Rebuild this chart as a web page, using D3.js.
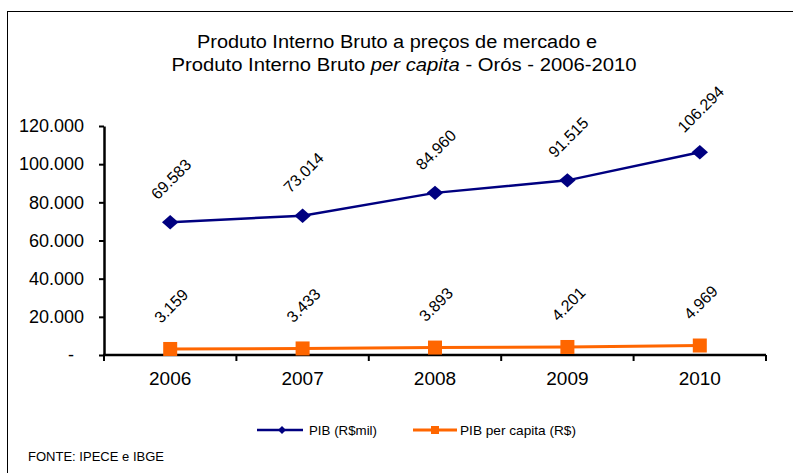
<!DOCTYPE html>
<html>
<head>
<meta charset="utf-8">
<script src="https://cdn.jsdelivr.net/npm/d3@7"></script>
<style>
  body { margin: 0; background: #fff; }
  svg text { font-family: "Liberation Sans", Arial, sans-serif; fill: #000; }
</style>
</head>
<body>
<div id="chart"></div>
<script>
// dados do grafico
const anos = ["2006", "2007", "2008", "2009", "2010"];
const pib = [69583, 73014, 84960, 91515, 106294];          // PIB (R$mil)
const pibPerCapita = [3159, 3433, 3893, 4201, 4969];        // PIB per capita (R$)
const yTicks = [0, 20000, 40000, 60000, 80000, 100000, 120000];

const width = 793, height = 473;

const svg = d3.select("#chart")
    .append("svg")
        .attr("width", width)
        .attr("height", height);

// moldura
svg.append("rect")
    .attr("x", 7.5).attr("y", 11.5)
    .attr("width", 800).attr("height", 480)
    .attr("fill", "none")
    .attr("stroke", "#000")
    .attr("stroke-width", 1);

// titulo
const t1 = svg.append("text")
    .attr("x", 397).attr("y", 48)
    .attr("text-anchor", "middle")
    .attr("font-size", 18)
    .attr("textLength", 400).attr("lengthAdjust", "spacingAndGlyphs")
    .text("Produto Interno  Bruto a preços de mercado  e");

const t2 = svg.append("text")
    .attr("x", 404).attr("y", 71)
    .attr("text-anchor", "middle")
    .attr("font-size", 18)
    .attr("textLength", 465).attr("lengthAdjust", "spacingAndGlyphs");
t2.append("tspan").text("Produto Interno Bruto ");
t2.append("tspan").attr("font-style", "italic").text("per capita");
t2.append("tspan").text(" - Orós  - 2006-2010");

// escalas
const x = d3.scaleBand()
    .domain(anos)
    .range([104, 766]);

const y = d3.scaleLinear()
    .domain([0, 120000])
    .range([355, 126]);

const br = d3.formatLocale({decimal: ",", thousands: ".", grouping: [3], currency: ["R$", ""]});
const fmt = br.format(",d");

// eixo y
const yAxis = svg.append("g")
    .attr("transform", "translate(104,0)")
    .call(d3.axisLeft(y)
        .tickValues(yTicks)
        .tickSize(5)
        .tickSizeOuter(0)
        .tickPadding(15)
        .tickFormat(d => d === 0 ? "-" : fmt(d)));
yAxis.select(".domain").attr("stroke-width", 2.5);
yAxis.selectAll(".tick line").attr("stroke-width", 2);
yAxis.selectAll(".tick text")
    .attr("font-size", 18)
    .attr("dx", d => d === 0 ? -10 : 0);

// eixo x
const xAxis = svg.append("g")
    .attr("transform", "translate(0,355)");
xAxis.append("line")
    .attr("x1", x.range()[0] - 1).attr("x2", x.range()[1])
    .attr("stroke", "#000").attr("stroke-width", 2.5);
xAxis.selectAll(".xtick")
    .data(anos.map(a => x(a)).concat([x.range()[1]]))
    .enter()
    .append("line")
    .attr("class", "xtick")
    .attr("x1", d => d).attr("x2", d => d)
    .attr("y1", 0).attr("y2", 6)
    .attr("stroke", "#000").attr("stroke-width", 2);
xAxis.selectAll(".xlabel")
    .data(anos)
    .enter()
    .append("text")
    .attr("class", "xlabel")
    .attr("x", d => x(d) + x.bandwidth() / 2)
    .attr("y", 30)
    .attr("text-anchor", "middle")
    .attr("font-size", 19)
    .text(d => d);

const cx = i => x(anos[i]) + x.bandwidth() / 2;

// linha PIB
svg.append("path")
    .datum(pib)
    .attr("fill", "none")
    .attr("stroke", "#000080")
    .attr("stroke-width", 2.5)
    .attr("d", d3.line()
        .x((d, i) => cx(i))
        .y(d => y(d)));

svg.selectAll(".diamond")
    .data(pib)
    .enter()
    .append("path")
    .attr("class", "diamond")
    .attr("d", d3.symbol().type(d3.symbolDiamond2).size(110))
    .attr("transform", (d, i) => `translate(${cx(i)},${y(d)}) scale(1.25,1.1)`)
    .attr("fill", "#000080");

// linha PIB per capita
svg.append("path")
    .datum(pibPerCapita)
    .attr("fill", "none")
    .attr("stroke", "#FF6600")
    .attr("stroke-width", 3)
    .attr("d", d3.line()
        .x((d, i) => cx(i))
        .y(d => y(d)));

svg.selectAll(".square")
    .data(pibPerCapita)
    .enter()
    .append("rect")
    .attr("class", "square")
    .attr("x", (d, i) => cx(i) - 7)
    .attr("y", d => y(d) - 7)
    .attr("width", 14).attr("height", 14)
    .attr("fill", "#FF6600");

// rotulos
function rotulos(data, cls) {
    svg.selectAll("." + cls)
        .data(data)
        .enter()
        .append("text")
        .attr("class", cls)
        .attr("text-anchor", "middle")
        .attr("dominant-baseline", "central")
        .attr("font-size", 16)
        .attr("transform", (d, i) => `translate(${cx(i) + 1},${y(d) - 43}) rotate(-45)`)
        .text(d => fmt(d));
}
rotulos(pib, "lblPib");
rotulos(pibPerCapita, "lblPc");

// legenda
const leg = svg.append("g");
leg.append("line")
    .attr("x1", 257).attr("x2", 303).attr("y1", 430).attr("y2", 430)
    .attr("stroke", "#000080").attr("stroke-width", 2.5);
leg.append("path")
    .attr("d", d3.symbol().type(d3.symbolDiamond2).size(40))
    .attr("transform", "translate(282,430)")
    .attr("fill", "#000080");
leg.append("text")
    .attr("x", 309).attr("y", 435)
    .attr("font-size", 13)
    .attr("textLength", 68).attr("lengthAdjust", "spacingAndGlyphs")
    .text("PIB (R$mil)");

leg.append("line")
    .attr("x1", 413).attr("x2", 457).attr("y1", 430).attr("y2", 430)
    .attr("stroke", "#FF6600").attr("stroke-width", 3);
leg.append("rect")
    .attr("x", 431).attr("y", 426).attr("width", 8).attr("height", 8)
    .attr("fill", "#FF6600");
leg.append("text")
    .attr("x", 460).attr("y", 435)
    .attr("font-size", 13)
    .attr("textLength", 116).attr("lengthAdjust", "spacingAndGlyphs")
    .text("PIB per capita (R$)");

// fonte
svg.append("text")
    .attr("x", 28).attr("y", 461)
    .attr("font-size", 12.5)
    .attr("textLength", 136).attr("lengthAdjust", "spacingAndGlyphs")
    .text("FONTE: IPECE e IBGE");
</script>
</body>
</html>
